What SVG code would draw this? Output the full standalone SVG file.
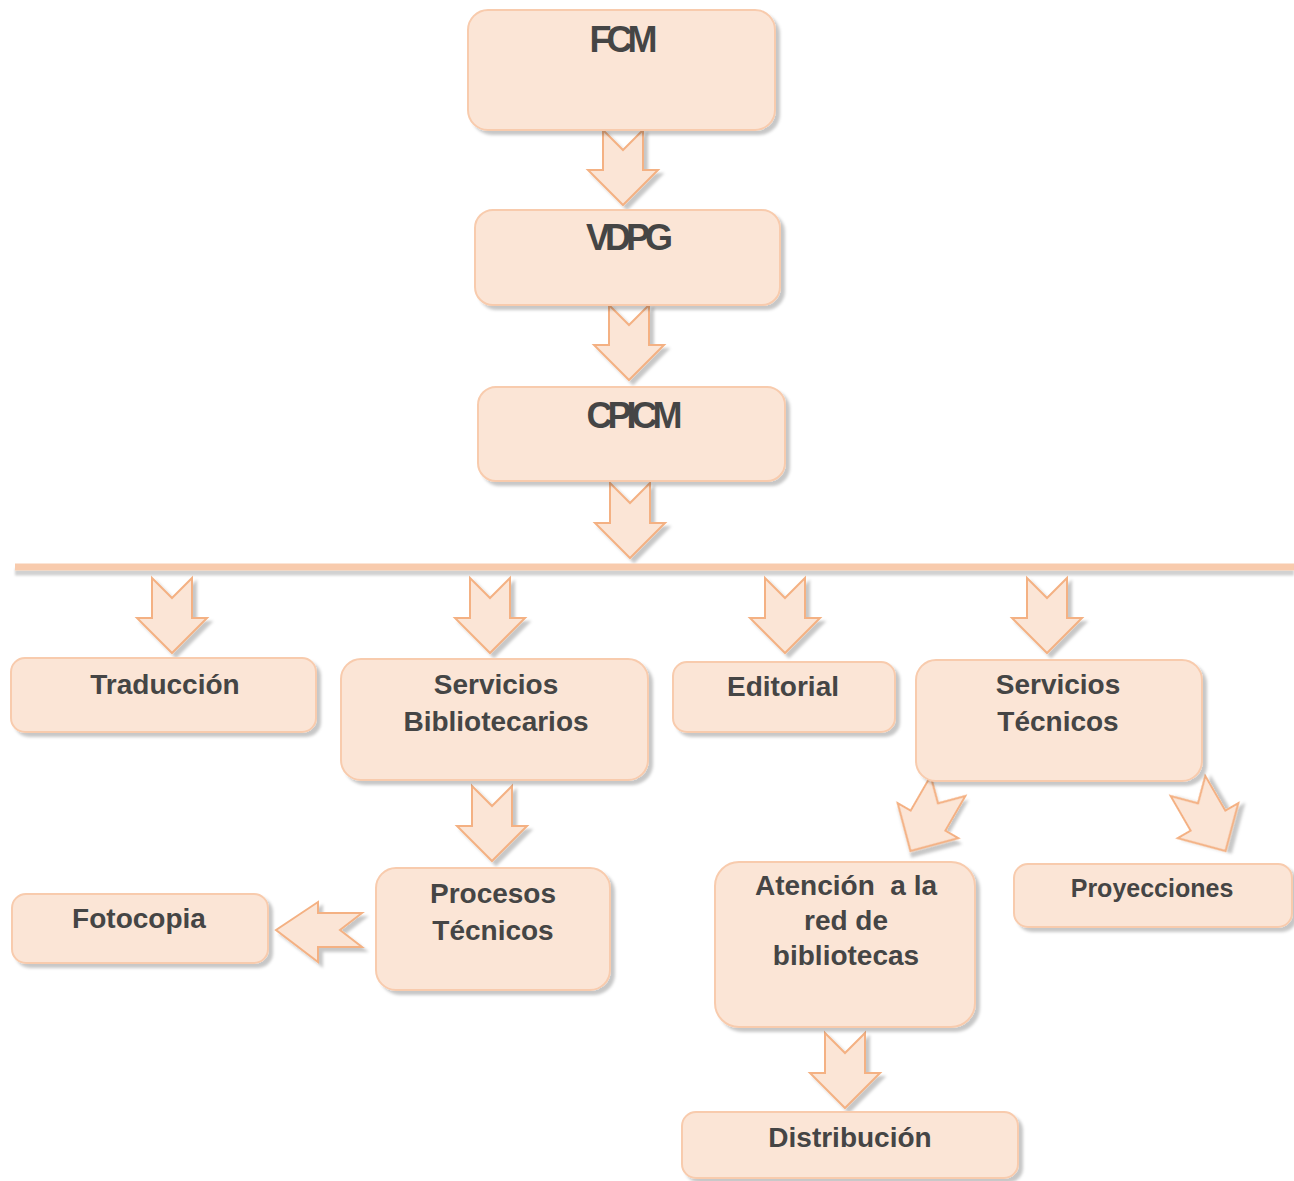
<svg xmlns="http://www.w3.org/2000/svg" xmlns:xlink="http://www.w3.org/1999/xlink" width="1294" height="1181" viewBox="0 0 1294 1181">
<style>
.box{fill:#fbe5d6;stroke:#f8cbad;stroke-width:2;filter:url(#sh)}
.arr{fill:#fbe5d6;stroke:#f4b183;stroke-width:2;stroke-linejoin:miter;filter:url(#sh)}
.t{font-family:"Liberation Sans",Arial,sans-serif;font-weight:bold;font-size:28px;fill:#454545;text-anchor:middle}
.h{font-family:"Liberation Sans",Arial,sans-serif;font-weight:bold;font-size:36px;fill:#454545;text-anchor:middle;letter-spacing:-5px}
</style>
<defs>
<filter id="sh" x="-20%" y="-20%" width="150%" height="150%">
<feDropShadow dx="4" dy="4" stdDeviation="1.5" flood-color="#000" flood-opacity="0.22"/>
</filter>
<filter id="shl" x="-5%" y="-100%" width="110%" height="400%">
<feDropShadow dx="0" dy="5" stdDeviation="1" flood-color="#000" flood-opacity="0.18"/>
</filter>
<path id="da" d="M-20,0 L0,20 L20,0 L20,40 L35,40 L0,75 L-35,40 L-20,40 Z"/>
</defs>
<rect width="1294" height="1181" fill="#fff"/>
<g id="connectors">
<use xlink:href="#da" class="arr" transform="translate(623,130)"/>
<use xlink:href="#da" class="arr" transform="translate(629,305)"/>
<use xlink:href="#da" class="arr" transform="translate(630,483)"/>
<rect x="15" y="563.5" width="1279" height="7" fill="#f8cbad" filter="url(#shl)"/>
<use xlink:href="#da" class="arr" transform="translate(172,578)"/>
<use xlink:href="#da" class="arr" transform="translate(490,578)"/>
<use xlink:href="#da" class="arr" transform="translate(785,578)"/>
<use xlink:href="#da" class="arr" transform="translate(1047,578)"/>
<use xlink:href="#da" class="arr" transform="translate(492,786)"/>
<use xlink:href="#da" class="arr" transform="translate(948,786) rotate(30)"/>
<use xlink:href="#da" class="arr" transform="translate(1188,786) rotate(-30)"/>
<use xlink:href="#da" class="arr" transform="translate(845,1033)"/>
<path class="arr" d="M362,913 L340,930 L362,947 L318,947 L318,962 L276,930 L318,902 L318,913 Z"/>
</g>
<g id="n-fcm"><rect class="box" x="468" y="10" width="307" height="120" rx="20"/><text class="h" x="621" y="52">FCM</text></g>
<g id="n-vdpg"><rect class="box" x="475" y="210" width="305" height="95" rx="18"/><text class="h" x="627" y="250">VDPG</text></g>
<g id="n-cpicm"><rect class="box" x="478" y="387" width="307" height="94" rx="18"/><text class="h" x="632" y="428">CPICM</text></g>
<g id="n-trad"><rect class="box" x="11" y="658" width="305" height="74" rx="14"/><text class="t" x="165" y="694">Traducción</text></g>
<g id="n-sb"><rect class="box" x="341" y="659" width="307" height="121" rx="20"/><text class="t" x="496" y="694">Servicios</text><text class="t" x="496" y="731">Bibliotecarios</text></g>
<g id="n-edit"><rect class="box" x="673" y="662" width="222" height="70" rx="14"/><text class="t" x="783" y="696">Editorial</text></g>
<g id="n-st"><rect class="box" x="916" y="660" width="286" height="121" rx="20"/><text class="t" x="1058" y="694">Servicios</text><text class="t" x="1058" y="731">Técnicos</text></g>
<g id="n-pt"><rect class="box" x="376" y="868" width="234" height="122" rx="20"/><text class="t" x="493" y="903">Procesos</text><text class="t" x="493" y="940">Técnicos</text></g>
<g id="n-foto"><rect class="box" x="12" y="894" width="256" height="69" rx="14"/><text class="t" x="139" y="928">Fotocopia</text></g>
<g id="n-aten"><rect class="box" x="715" y="862" width="260" height="165" rx="24"/><text class="t" x="846" y="895" xml:space="preserve" style="white-space:pre">Atención  a la</text><text class="t" x="846" y="930">red de</text><text class="t" x="846" y="965">bibliotecas</text></g>
<g id="n-proy"><rect class="box" x="1014" y="864" width="278" height="63" rx="14"/><text class="t" x="1152" y="897" style="font-size:25px">Proyecciones</text></g>
<g id="n-dist"><rect class="box" x="682" y="1112" width="336" height="66" rx="14"/><text class="t" x="850" y="1147">Distribución</text></g>
</svg>
